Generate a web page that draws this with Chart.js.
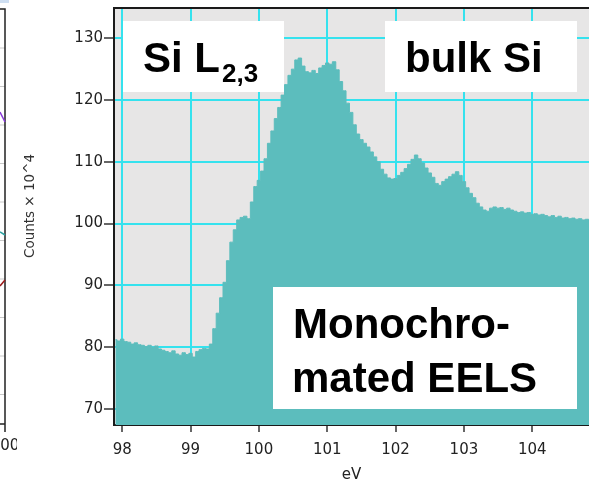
<!DOCTYPE html>
<html>
<head>
<meta charset="utf-8">
<script src="https://cdn.jsdelivr.net/npm/chart.js@4/dist/chart.umd.min.js"></script>
<style>
  html, body { margin: 0; padding: 0; background: #ffffff; }
  #wrap { width: 589px; height: 485px; }
</style>
</head>
<body>
<div id="wrap"><canvas id="eelsChart" width="589" height="485"></canvas></div>
<script>
// Spectrum (eV, counts x 10^4)
const energies = [
  97.90, 97.95, 98.00, 98.05, 98.10, 98.15, 98.20, 98.25, 98.30, 98.35,
  98.40, 98.45, 98.50, 98.55, 98.60, 98.65, 98.70, 98.75, 98.80, 98.85,
  98.90, 98.95, 99.00, 99.05, 99.10, 99.15, 99.20, 99.25, 99.30, 99.35,
  99.40, 99.45, 99.50, 99.55, 99.60, 99.65, 99.70, 99.75, 99.80, 99.85,
  99.90, 99.95, 100.00, 100.05, 100.10, 100.15, 100.20, 100.25, 100.30, 100.35,
  100.40, 100.45, 100.50, 100.55, 100.60, 100.65, 100.70, 100.75, 100.80, 100.85,
  100.90, 100.95, 101.00, 101.05, 101.10, 101.15, 101.20, 101.25, 101.30, 101.35,
  101.40, 101.45, 101.50, 101.55, 101.60, 101.65, 101.70, 101.75, 101.80, 101.85,
  101.90, 101.95, 102.00, 102.05, 102.10, 102.15, 102.20, 102.25, 102.30, 102.35,
  102.40, 102.45, 102.50, 102.55, 102.60, 102.65, 102.70, 102.75, 102.80, 102.85,
  102.90, 102.95, 103.00, 103.05, 103.10, 103.15, 103.20, 103.25, 103.30, 103.35,
  103.40, 103.45, 103.50, 103.55, 103.60, 103.65, 103.70, 103.75, 103.80, 103.85,
  103.90, 103.95, 104.00, 104.05, 104.10, 104.15, 104.20, 104.25, 104.30, 104.35,
  104.40, 104.45, 104.50, 104.55, 104.60, 104.65, 104.70, 104.75, 104.80, 104.85
];
const counts = [
  81.2, 81.0, 81.3, 80.9, 80.8, 80.5, 80.7, 80.4, 80.3, 80.1,
  80.3, 80.0, 80.2, 79.7, 79.5, 79.3, 79.1, 79.4, 78.9, 78.7,
  79.1, 78.8, 79.0, 78.4, 79.3, 79.6, 79.8, 79.7, 80.5, 83.0,
  85.5, 88.0, 90.5, 94.0, 97.0, 99.0, 100.6, 101.0, 101.2, 100.8,
  103.5, 106.0, 107.0, 108.5, 110.5, 113.0, 115.0, 117.0, 118.8, 120.8,
  122.5, 124.0, 125.0, 126.5, 126.8, 125.5, 124.6, 124.4, 124.8, 124.3,
  125.2, 125.6, 126.0, 125.8, 126.2, 124.9, 123.0, 121.5, 119.5, 118.0,
  116.0, 114.5, 113.6, 113.0, 112.4, 111.6, 110.8, 110.0, 108.8, 108.0,
  107.4, 107.2, 107.3, 107.8, 108.3, 108.9, 109.6, 110.4, 111.1, 110.5,
  109.8, 109.0, 108.2, 107.5, 106.5, 106.2, 106.8, 107.2, 107.6, 108.0,
  108.4, 107.8, 106.8, 105.8, 104.9, 104.2, 103.3, 102.7, 102.2, 102.0,
  102.5, 102.7, 102.5, 102.6, 102.3, 102.5, 102.2, 102.0, 101.8, 101.9,
  101.7, 101.8, 101.5, 101.6, 101.4, 101.5, 101.3, 101.1, 101.3, 101.0,
  101.2, 100.9, 101.0, 100.8, 100.9, 100.7, 100.8, 100.6, 100.7, 100.6
];
const xTicks = [98, 99, 100, 101, 102, 103, 104];
const yTicks = [70, 80, 90, 100, 110, 120, 130];

const tickFont = { family: 'DejaVu Sans', size: 15 };
const boldFont = '"Liberation Sans", Arial, sans-serif';

// plot background, frame, labels and the cut-off neighbour panel
const decorations = {
  id: 'decorations',
  beforeDraw(chart) {
    const { ctx, chartArea: a } = chart;
    ctx.save();
    ctx.fillStyle = '#e7e6e6';
    ctx.fillRect(a.left, a.top, a.right - a.left, a.bottom - a.top);
    ctx.restore();
  },
  afterDraw(chart) {
    const { ctx, chartArea: a } = chart;
    ctx.save();

    // top frame line
    ctx.strokeStyle = '#1a1a1a';
    ctx.lineWidth = 2;
    ctx.beginPath();
    ctx.moveTo(a.left - 1, a.top);
    ctx.lineTo(a.right, a.top);
    ctx.stroke();

    // left neighbour panel (cut off)
    ctx.strokeStyle = '#c8c8c8';
    ctx.lineWidth = 1;
    for (let y = 48; y < 425; y += 38.5) {
      ctx.beginPath(); ctx.moveTo(0, y); ctx.lineTo(5, y); ctx.stroke();
    }
    ctx.strokeStyle = '#222';
    ctx.lineWidth = 1.5;
    ctx.beginPath();
    ctx.moveTo(0, 9); ctx.lineTo(5, 9); ctx.lineTo(5, 432);
    ctx.moveTo(0, 424); ctx.lineTo(5, 424);
    ctx.stroke();
    ctx.strokeStyle = '#8a3ad8';
    ctx.beginPath(); ctx.moveTo(0, 112); ctx.lineTo(5, 122); ctx.stroke();
    ctx.strokeStyle = '#2aa0a0';
    ctx.beginPath(); ctx.moveTo(0, 232); ctx.lineTo(5, 235); ctx.stroke();
    ctx.strokeStyle = '#9a1a1a';
    ctx.beginPath(); ctx.moveTo(0, 286); ctx.lineTo(5, 280); ctx.stroke();
    ctx.fillStyle = '#cfdff2';
    ctx.fillRect(0, 0, 9, 3);
    ctx.save();
    ctx.beginPath(); ctx.rect(0, 430, 17, 30); ctx.clip();
    ctx.fillStyle = '#222';
    ctx.font = '15px "DejaVu Sans"';
    ctx.textAlign = 'center';
    ctx.textBaseline = 'middle';
    ctx.fillText('100', 5, 446);
    ctx.restore();

    // y axis title
    ctx.save();
    ctx.translate(30, 206);
    ctx.rotate(-Math.PI / 2);
    ctx.fillStyle = '#333';
    ctx.font = '13.5px "DejaVu Sans"';
    ctx.textAlign = 'center';
    ctx.textBaseline = 'middle';
    ctx.fillText('Counts \u00d7 10^4', 0, 0);
    ctx.restore();

    // white label boxes
    ctx.fillStyle = '#ffffff';
    ctx.fillRect(123, 21, 161, 71);
    ctx.fillRect(385, 21, 192, 71);
    ctx.fillRect(273, 287, 304, 122);

    ctx.fillStyle = '#000000';
    ctx.textAlign = 'left';
    ctx.textBaseline = 'alphabetic';
    ctx.font = 'bold 42px ' + boldFont;
    ctx.fillText('Si L', 143, 72);
    const w = ctx.measureText('Si L').width;
    ctx.font = 'bold 26px ' + boldFont;
    ctx.fillText('2,3', 143 + w + 2, 82);
    ctx.font = 'bold 42px ' + boldFont;
    ctx.fillText('bulk Si', 405, 72);
    ctx.fillText('Monochro-', 293, 338);
    ctx.fillText('mated EELS', 292, 392);

    ctx.restore();
  }
};

const eelsChart = new Chart(document.getElementById('eelsChart'), {
  type: 'line',
  data: {
    datasets: [
      {
        data: energies.map((e, i) => ({ x: e, y: counts[i] })),
        stepped: 'middle',
        fill: 'start',
        backgroundColor: '#5cbdbd',
        borderColor: '#5cbdbd',
        borderWidth: 1,
        pointRadius: 0
      }
    ]
  },
  options: {
    responsive: false,
    animation: false,
    events: [],
    layout: { autoPadding: false, padding: { left: 0, top: 8, right: 0, bottom: 0 } },
    plugins: { legend: { display: false }, tooltip: { enabled: false } },
    scales: {
      x: {
        type: 'linear',
        min: 97.88,
        max: 104.83,
        afterBuildTicks: (scale) => { scale.ticks = xTicks.map(v => ({ value: v })); },
        afterFit: (scale) => { scale.height = 60; scale.paddingLeft = 0; scale.paddingRight = 0; },
        ticks: { font: tickFont, color: '#222', padding: 9, maxRotation: 0 },
        grid: { color: '#35e2ee', lineWidth: 2, tickColor: '#333', tickLength: 7, tickWidth: 1.5 },
        border: { color: '#1a1a1a', width: 2 },
        title: { display: true, text: 'eV', font: tickFont, color: '#222', padding: { top: 0, bottom: 1 } }
      },
      y: {
        type: 'linear',
        min: 67.4,
        max: 134.9,
        afterBuildTicks: (scale) => { scale.ticks = yTicks.map(v => ({ value: v })); },
        afterFit: (scale) => { scale.width = 114; scale.paddingTop = 0; scale.paddingBottom = 0; },
        ticks: { font: tickFont, color: '#222', padding: 1 },
        grid: { color: '#35e2ee', lineWidth: 2, tickColor: '#333', tickLength: 10, tickWidth: 1.5 },
        border: { color: '#1a1a1a', width: 2 }
      }
    }
  },
  plugins: [decorations]
});
</script>
</body>
</html>
